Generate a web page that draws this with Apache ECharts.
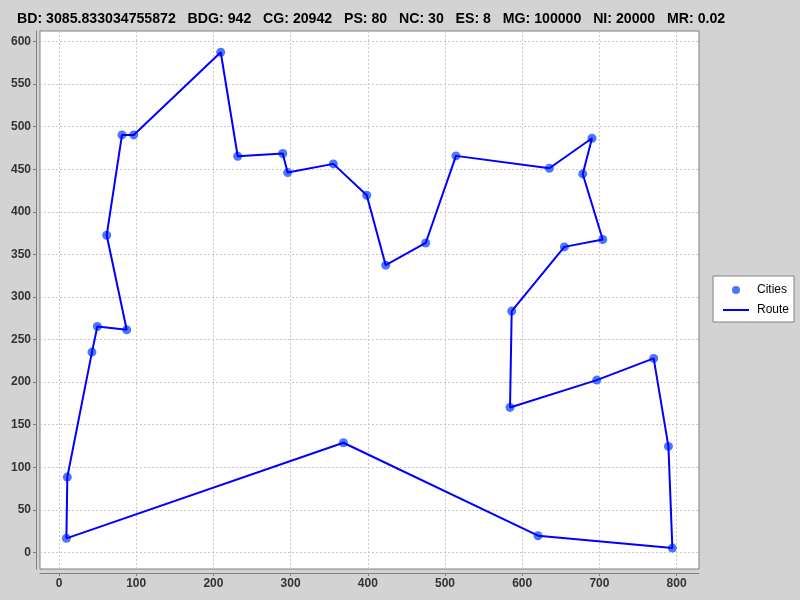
<!DOCTYPE html>
<html>
<head>
<meta charset="utf-8">
<script src="https://cdn.jsdelivr.net/npm/echarts@6/dist/echarts.min.js"></script>
<style>
  html, body { margin: 0; padding: 0; background: #d3d3d3; }
  #chart { width: 800px; height: 600px; }
</style>
</head>
<body>
<div id="chart"></div>
<script>
// cities in route order (the route closes back to the first one)
const cityX = [9.6, 10.8, 42.7, 49.7, 87.7, 61.8, 81.6, 96.8, 209.5, 231.5,
  289.8, 296.2, 355.4, 398.6, 423.2, 475.0, 514.2, 635.2, 690.4, 678.4,
  704.3, 654.6, 586.4, 584.2, 696.5, 770.3, 789.4, 794.5, 620.5, 368.4];
const cityY = [16.4, 88.4, 235.2, 265.3, 261.4, 372.5, 490.3, 490.3, 587.4, 465.3,
  468.5, 446.1, 456.3, 419.5, 337.3, 363.4, 465.7, 451.2, 486.4, 444.5,
  367.5, 358.8, 283.4, 170.2, 202.3, 227.8, 124.4, 5.0, 19.5, 128.7];
const xTicks = [0, 100, 200, 300, 400, 500, 600, 700, 800];
const yTicks = [0, 50, 100, 150, 200, 250, 300, 350, 400, 450, 500, 550, 600];
const titleText = 'BD: 3085.833034755872   BDG: 942   CG: 20942   PS: 80   NC: 30   ES: 8   MG: 100000   NI: 20000   MR: 0.02';

const cities = cityX.map((x, i) => [x, cityY[i]]);
const route = cities.concat([cities[0]]);

const chart = echarts.init(document.getElementById('chart'));

const axisCommon = {
  type: 'value',
  axisLine: { show: true, onZero: false, lineStyle: { color: '#808080', width: 1 } },
  axisTick: { show: true, length: 3, lineStyle: { color: '#808080' } },
  splitLine: { show: true, lineStyle: { color: '#c8c8c8', type: [2, 2], width: 1 } },
  axisLabel: {
    color: '#333',
    fontFamily: 'Liberation Sans, Arial, sans-serif',
    fontWeight: 'bold',
    fontSize: 12
  }
};

chart.setOption({
  backgroundColor: '#d3d3d3',
  animation: false,
  title: {
    text: titleText,
    left: 17,
    top: 12,
    padding: 0,
    textStyle: {
      fontFamily: 'Liberation Sans, Arial, sans-serif',
      fontWeight: 'bold',
      fontSize: 14.15,
      color: '#000'
    }
  },
  legend: {
    orient: 'vertical',
    left: 713,
    top: 276,
    padding: [8, 5, 6, 7],
    itemGap: 8,
    itemWidth: 32,
    itemHeight: 8,
    backgroundColor: '#fff',
    borderColor: '#808080',
    borderWidth: 1,
    textStyle: { fontFamily: 'Liberation Sans, Arial, sans-serif', fontSize: 12, color: '#000' },
    data: [
      { name: 'Cities', icon: 'circle' },
      { name: 'Route', icon: 'path://M0,0M32,8M3,3L29,3L29,5L3,5Z' }
    ]
  },
  grid: {
    left: 40,
    right: 101,
    top: 31,
    bottom: 31,
    show: true,
    backgroundColor: '#fff',
    borderColor: '#808080',
    borderWidth: 1
  },
  xAxis: Object.assign({}, axisCommon, {
    min: -24.6,
    max: 829,
    offset: 4,
    axisTick: Object.assign({}, axisCommon.axisTick, { customValues: xTicks }),
    axisLabel: Object.assign({}, axisCommon.axisLabel, { customValues: xTicks, margin: 5 })
  }),
  yAxis: Object.assign({}, axisCommon, {
    min: -19.6,
    max: 612.4,
    offset: 4,
    axisTick: Object.assign({}, axisCommon.axisTick, { customValues: yTicks }),
    axisLabel: Object.assign({}, axisCommon.axisLabel, { customValues: yTicks, margin: 5 })
  }),
  series: [
    {
      name: 'Cities',
      type: 'scatter',
      data: cities,
      symbolSize: 9,
      z: 2,
      itemStyle: { color: '#4d76ff', opacity: 1 }
    },
    {
      name: 'Route',
      type: 'line',
      data: route,
      symbol: 'none',
      z: 3,
      lineStyle: { color: '#0000ff', width: 2 },
      itemStyle: { color: '#0000ff' }
    }
  ]
});
</script>
</body>
</html>
